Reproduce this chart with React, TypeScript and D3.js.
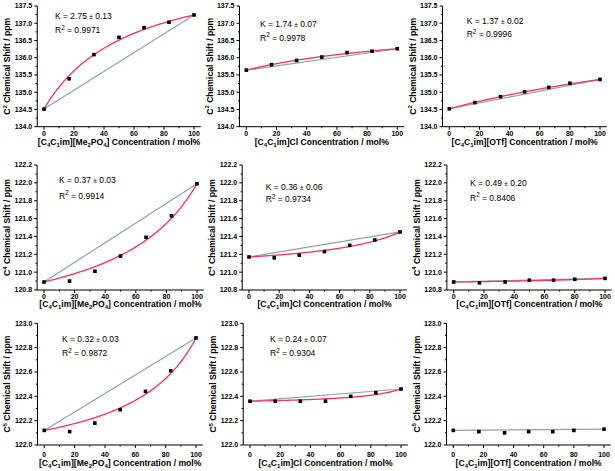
import React from "react";
import * as d3 from "d3";

// ---------- data ----------
const xMe2PO4 = [0, 16.7, 33.3, 50, 66.7, 83.3, 100];
const xCl = [0, 16.7, 33.3, 50, 66.7, 83.3, 100];
const xOTf = [0, 17, 34, 50, 66, 80, 100];

const c2Me2PO4 = [134.51, 135.39, 136.09, 136.59, 136.87, 137.03, 137.24];
const c2Cl = [135.64, 135.8, 135.92, 136.02, 136.15, 136.19, 136.26];
const c2OTf = [134.52, 134.7, 134.87, 135.01, 135.14, 135.26, 135.37];
const c4Me2PO4 = [120.89, 120.9, 121.01, 121.18, 121.39, 121.63, 121.99];
const c4Cl = [121.17, 121.16, 121.19, 121.23, 121.3, 121.36, 121.45];
const c4OTf = [120.89, 120.88, 120.89, 120.91, 120.91, 120.92, 120.93];
const c5Me2PO4 = [122.12, 122.11, 122.18, 122.29, 122.44, 122.61, 122.88];
const c5Cl = [122.36, 122.36, 122.36, 122.36, 122.4, 122.43, 122.46];
const c5OTf = [122.12, 122.11, 122.1, 122.11, 122.11, 122.12, 122.13];

const kValues = ["2.75", "1.74", "1.37", "0.37", "0.36", "0.49", "0.32", "0.24", null];
const kErrors = ["0.13", "0.07", "0.02", "0.03", "0.06", "0.20", "0.03", "0.07", null];
const r2Values = ["0.9971", "0.9978", "0.9996", "0.9914", "0.9734", "0.8406", "0.9872", "0.9304", null];

const carbons = ["2", "4", "5"]; // rows
const yDomains = [[134.0, 137.5], [120.8, 122.2], [122.0, 123.0]];
const yTickSteps = [0.5, 0.2, 0.2];
const xTicks = [0, 20, 40, 60, 80, 100];
const anions = ["Me2PO4", "Cl", "OTf"]; // columns

const seriesX = [xMe2PO4, xCl, xOTf];
const seriesY = [
  [c2Me2PO4, c2Cl, c2OTf],
  [c4Me2PO4, c4Cl, c4OTf],
  [c5Me2PO4, c5Cl, c5OTf],
];

// ---------- layout ----------
const X_PX = [
  [44, 194], [246.3, 397.3], [449.3, 600],
  [44, 197], [249, 400], [453.7, 605],
  [44.3, 196], [250, 401], [453.3, 604],
];
const Y_PX = [[126.7, 6], [290, 165], [445, 323.3]];
const TICK_BASE = [8.8, 8.8, 12];
const TITLE_BASE = [18, 17, 21];
const K_POS = [
  [55, 18.5, 33], [260, 27, 40.5], [466.7, 24.3, 37.3],
  [59, 183, 198.5], [265.7, 189.5, 202], [470, 186, 200.5],
  [62, 342, 356], [270, 342, 356], [0, 0, 0],
];

const FONT = "'Liberation Sans', Arial, Helvetica, sans-serif";
const RED = "#ff2f6b";
const GRAY = "#8ea69f";

// binding-isotherm model curve described by the fitted K printed on each panel
function modelValue(K: number, d0: number, d1: number, xPct: number) {
  const f = xPct / 100;
  return d0 + (d1 - d0) * (K * f) / (1 + (K - 1) * f);
}

function CationLabel({ anion }: { anion: string }) {
  const sub = (t: string) => [
    <tspan key={t + "a"} fontSize={6} dy={2}>{t}</tspan>,
    <tspan key={t + "b"} dy={-2}>{""}</tspan>,
  ];
  const parts: any[] = [];
  parts.push(<tspan key="c1">[C</tspan>);
  parts.push(<tspan key="s1" fontSize={6} dy={2}>4</tspan>);
  parts.push(<tspan key="c2" dy={-2}>C</tspan>);
  parts.push(<tspan key="s2" fontSize={6} dy={2}>1</tspan>);
  parts.push(<tspan key="c3" dy={-2}>im]</tspan>);
  if (anion === "Me2PO4") {
    parts.push(<tspan key="a1">[Me</tspan>);
    parts.push(<tspan key="a2" fontSize={6} dy={2}>2</tspan>);
    parts.push(<tspan key="a3" dy={-2}>PO</tspan>);
    parts.push(<tspan key="a4" fontSize={6} dy={2}>4</tspan>);
    parts.push(<tspan key="a5" dy={-2}>] Concentration / mol%</tspan>);
  } else if (anion === "Cl") {
    parts.push(<tspan key="a1">Cl Concentration / mol%</tspan>);
  } else {
    parts.push(<tspan key="a1">[OTf] Concentration / mol%</tspan>);
  }
  void sub;
  return <>{parts}</>;
}

function Panel({ idx }: { idx: number }) {
  const row = Math.floor(idx / 3);
  const col = idx % 3;
  const xs = seriesX[col];
  const ys = seriesY[row][col];
  const [x0, x100] = X_PX[idx];
  const x = d3.scaleLinear().domain([0, 100]).range([x0, x100]);
  const y = d3.scaleLinear().domain(yDomains[row]).range(Y_PX[row]);
  const axL = x(-4.5);
  const axR = x(104.5);
  const axB = y(yDomains[row][0]);
  const axT = y(yDomains[row][1]);
  const step = yTickSteps[row];
  const nY = Math.round((yDomains[row][1] - yDomains[row][0]) / step);
  const yTicks = d3.range(nY + 1).map((i) => yDomains[row][0] + i * step);
  const yMinor = d3.range(nY).map((i) => yDomains[row][0] + (i + 0.5) * step);
  const xMinor = [10, 30, 50, 70, 90];

  const pts = xs.map((xv, i) => [xv, ys[i]] as [number, number]);
  const line = d3.line<[number, number]>().x((d) => x(d[0])).y((d) => y(d[1]));
  const grayPath = line([pts[0], pts[pts.length - 1]]) || "";
  let redPath = "";
  const k = kValues[idx];
  if (k) {
    const K = parseFloat(k);
    const curve = d3.range(0, 101, 1).map((xv) => [xv, modelValue(K, ys[0], ys[ys.length - 1], xv)] as [number, number]);
    redPath = d3.line<[number, number]>().x((d) => x(d[0])).y((d) => y(d[1])).curve(d3.curveMonotoneX)(curve) || "";
  }
  const titleX = axL - 27;
  const midY = (axB + axT) / 2;
  const kp = K_POS[idx];

  return (
    <g>
      {/* axes */}
      <line x1={axL} x2={axL} y1={axT} y2={axB} stroke="#000" strokeWidth={1} />
      <line x1={axL} x2={axR} y1={axB} y2={axB} stroke="#000" strokeWidth={1} />
      {yTicks.map((t) => (
        <g key={"yt" + t}>
          <line x1={axL - 3} x2={axL} y1={y(t)} y2={y(t)} stroke="#000" strokeWidth={1} />
          <text x={axL - 5} y={y(t) + 2.4} fontSize={7} fontWeight="bold" textAnchor="end" fontFamily={FONT}>
            {t.toFixed(1)}
          </text>
        </g>
      ))}
      {yMinor.map((t) => (
        <line key={"ym" + t} x1={axL - 1.6} x2={axL} y1={y(t)} y2={y(t)} stroke="#000" strokeWidth={1} />
      ))}
      {xTicks.map((t) => (
        <g key={"xt" + t}>
          <line x1={x(t)} x2={x(t)} y1={axB} y2={axB + 3} stroke="#000" strokeWidth={1} />
          <text x={x(t)} y={axB + TICK_BASE[row]} fontSize={7} fontWeight="bold" textAnchor="middle" fontFamily={FONT}>
            {t}
          </text>
        </g>
      ))}
      {xMinor.map((t) => (
        <line key={"xm" + t} x1={x(t)} x2={x(t)} y1={axB} y2={axB + 1.6} stroke="#000" strokeWidth={1} />
      ))}
      {/* titles */}
      <text
        x={(axL + axR) / 2}
        y={axB + TITLE_BASE[row]}
        fontSize={8.6}
        fontWeight="bold"
        textAnchor="middle"
        fontFamily={FONT}
      >
        <CationLabel anion={anions[col]} />
      </text>
      <text
        transform={`translate(${titleX},${midY}) rotate(-90)`}
        fontSize={8.6}
        fontWeight="bold"
        textAnchor="middle"
        fontFamily={FONT}
      >
        <tspan>C</tspan>
        <tspan fontSize={6} dy={-3.5}>{carbons[row]}</tspan>
        <tspan dy={3.5}> Chemical Shift / ppm</tspan>
      </text>
      {/* lines */}
      <path d={grayPath} fill="none" stroke={GRAY} strokeWidth={1.2} />
      {redPath && <path d={redPath} fill="none" stroke={RED} strokeWidth={1.3} />}
      {pts.map((p, i) => (
        <rect key={"p" + i} x={x(p[0]) - 1.8} y={y(p[1]) - 1.8} width={3.6} height={3.6} fill="#000" />
      ))}
      {/* annotations */}
      {k && (
        <>
          <text x={kp[0]} y={kp[1]} fontSize={8.5} fontFamily={FONT}>
            {`K = ${k} `}
            <tspan fontSize={6.5}>±</tspan>
            {` ${kErrors[idx]}`}
          </text>
          <text x={kp[0]} y={kp[2]} fontSize={8.5} fontFamily={FONT}>
            <tspan>R</tspan>
            <tspan fontSize={6.3} dy={-3.5}>2</tspan>
            <tspan dy={3.5}>{` = ${r2Values[idx]}`}</tspan>
          </text>
        </>
      )}
    </g>
  );
}

export default function App() {
  return (
    <svg
      width={615}
      height={471}
      viewBox="0 0 615 471"
      style={{ position: "absolute", left: 0, top: 0, background: "#fff" }}
    >
      <rect x={0} y={0} width={615} height={471} fill="#fff" />
      {d3.range(9).map((i) => (
        <Panel key={i} idx={i} />
      ))}
    </svg>
  );
}
